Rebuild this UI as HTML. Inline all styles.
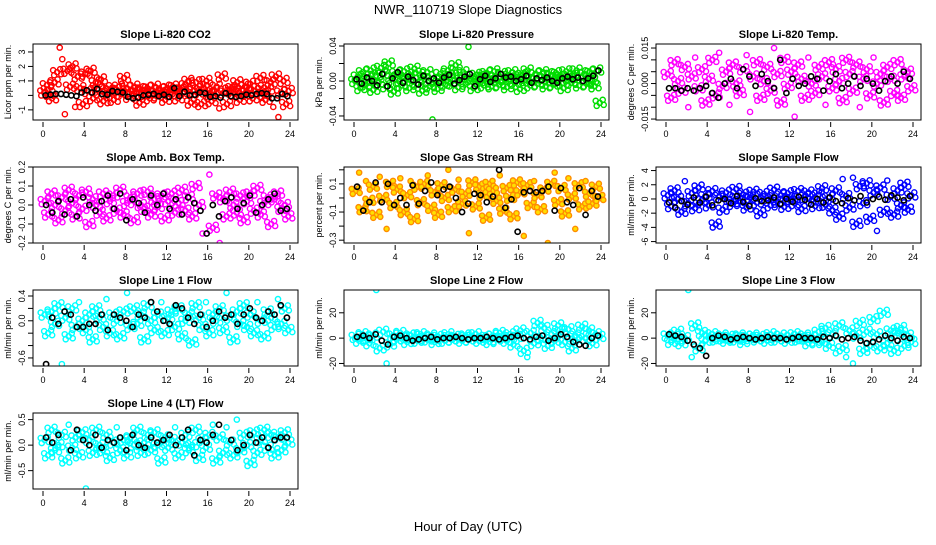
<!DOCTYPE html>
<html><head><meta charset="utf-8"><style>
body{margin:0;background:#fff;}
svg text{font-family:"Liberation Sans",Arial,sans-serif;}
</style></head><body>
<svg id="chart" width="936" height="540" xmlns="http://www.w3.org/2000/svg">
<text x="468" y="14" text-anchor="middle" font-size="13">NWR_110719  Slope Diagnostics</text>
<text x="468" y="531" text-anchor="middle" font-size="13">Hour of Day (UTC)</text>
</svg>
<script>
const xTicks=[0,4,8,12,16,20,24];
const titles=["Slope Li-820 CO2","Slope Li-820 Pressure","Slope Li-820 Temp.","Slope Amb. Box Temp.","Slope Gas Stream RH","Slope Sample Flow","Slope Line 1 Flow","Slope Line 2 Flow","Slope Line 3 Flow","Slope Line 4 (LT) Flow"];
const yLabels=["Licor ppm per min.","kPa per min.","degrees C per min.","degrees C per min.","percent per min.","ml/min per min.","ml/min per min.","ml/min per min.","ml/min per min.","ml/min per min."];
const colors=["#ff0000","#00dd00","#ff00ff","#ff00ff","#ff8c00","#0000ff","#00ffff","#00ffff","#00ffff","#00ffff"];
const yDomains=[[-1.7,3.55],[-0.0446,0.0423],[-0.0154,0.0167],[-0.2,0.2],[-0.32,0.22],[-6.2,4.5],[-0.73,0.497],[-22,38],[-22,38],[-0.86,0.63]];
const yTickVals=[[-1,0,1,2,3],[-0.04,-0.02,0,0.02,0.04],[-0.015,-0.01,-0.005,0,0.005,0.01,0.015],[-0.2,-0.1,0,0.1,0.2],[-0.3,-0.2,-0.1,0,0.1,0.2],[-6,-4,-2,0,2,4],[-0.6,-0.4,-0.2,0,0.2,0.4],[-20,0,20],[-20,0,20],[-0.5,0,0.5]];
const yTickLabels=[["-1","","1","2","3"],["-0.04","","0.00","","0.04"],["-0.015","","","0.000","","","0.015"],["-0.2","-0.1","0.0","0.1","0.2"],["-0.3","","-0.1","","0.1",""],["-6","-4","-2","0","2","4"],["-0.6","","","0.0","","0.4"],["-20","0","20"],["-20","0","20"],["-0.5","0.0","0.5"]];
const c0=[0.2,0.7,0.1,-0.2,0.9,1.6,3.3,2.5,-1.3,1.7,0.6,2.0,-0.8,1.3,0.5,-0.6,1.5,0.3,1.7,-0.2,0.9,0.4,1.1,-0.4,0.5,0.2,0.3,-0.3,0.4,0.6,0.1,1.2,0.5,-0.1,0.3,0.6,0.2,-0.5,0.4,0.1,0.5,-0.2,0.3,0.6,0.0,0.4,0.2,-0.3,0.5,0.1,0.6,0.3,-0.2,0.4,0.2,0.7,1.0,-0.5,0.3,0.9,0.2,-0.6,0.5,1.0,0.1,-0.4,0.3,0.6,-0.9,1.3,0.2,-0.6,0.4,0.5,0.1,0.9,-0.3,0.4,0.6,0.2,0.8,-0.2,0.3,0.5,1.2,0.1,-0.3,0.4,0.9,-0.8,1.3,-1.5,0.2,1.0,-0.6,0.3];
const b0=[0,0.05,0.1,0.1,0.05,0,-0.05,0.2,0.35,0.2,0.45,0.1,0.05,0.3,0.25,0.2,-0.1,-0.2,-0.15,0,0.05,0.1,-0.05,0.05,-0.1,0.5,-0.05,0.25,0,0.05,0.2,0.15,-0.1,-0.05,-0.15,0.15,-0.05,-0.1,-0.05,0.05,0,0.1,0.15,0.1,-0.2,-0.2,0.1,-0.05];
const c1=[0.000,0.005,-0.008,0.010,-0.004,0.003,0.012,-0.010,0.006,-0.002,0.015,0.008,-0.006,0.020,0.004,-0.012,0.009,0.000,-0.005,0.011,0.003,-0.008,0.006,0.014,-0.003,0.007,-0.011,0.002,0.010,-0.006,-0.044,0.000,-0.009,0.008,0.003,-0.004,0.012,-0.002,0.006,0.018,-0.007,0.004,0.010,-0.003,0.039,0.002,-0.008,0.007,0.000,0.005,-0.005,0.009,0.003,-0.006,0.011,0.001,-0.004,0.008,0.002,-0.007,0.006,0.010,-0.002,0.004,-0.009,0.007,0.001,0.012,-0.005,0.003,0.008,-0.003,0.005,0.010,-0.006,0.002,0.007,-0.004,0.009,0.000,0.005,-0.008,0.011,0.003,-0.002,0.006,0.012,-0.005,0.004,0.008,-0.003,0.010,0.001,-0.006,0.012,-0.025];
const b1=[0.002,-0.003,0.004,0.000,-0.005,0.008,-0.006,0.003,0.010,-0.002,0.005,0.001,-0.004,0.006,0.000,0.003,-0.002,0.004,0.007,-0.003,0.001,0.005,0.008,-0.006,0.002,0.006,-0.001,0.003,0.008,0.004,0.005,0.000,0.002,0.006,-0.002,0.003,0.001,0.004,0.000,-0.002,0.003,0.005,0.002,0.004,0.000,0.003,0.006,0.012];
const c2=[0.004,-0.006,0.009,0.001,-0.003,0.007,-0.010,0.003,0.011,-0.002,0.006,-0.008,0.002,0.010,-0.005,0.013,-0.001,0.005,-0.009,0.008,0.000,-0.004,0.006,0.012,-0.012,0.003,0.009,-0.006,0.001,0.007,-0.003,0.015,0.004,-0.008,0.010,-0.001,0.005,-0.014,0.008,0.002,-0.006,0.011,0.000,-0.004,0.007,0.003,-0.009,0.009,-0.002,0.006,0.001,-0.007,0.010,0.004,-0.003,0.008,-0.010,0.002,0.006,-0.005,0.011,0.000,0.004,-0.008,0.007,0.002,-0.004,0.009,-0.006,0.003,0.005,-0.002];
const b2=[-0.002,-0.002,-0.003,-0.002,-0.003,-0.002,-0.001,-0.004,-0.006,0.000,0.002,-0.002,0.006,0.003,-0.001,0.004,0.001,-0.002,0.010,-0.004,0.002,-0.001,0.000,0.003,0.002,-0.003,0.001,0.004,-0.002,0.000,0.003,-0.001,0.002,0.000,-0.003,0.001,0.003,0.000,0.005,0.002];
const c3=[0.02,-0.05,0.06,0.00,-0.08,0.04,-0.03,0.08,0.01,-0.06,0.05,-0.02,0.07,-0.10,0.03,0.00,-0.04,0.06,-0.07,0.02,0.05,-0.03,0.08,-0.05,0.01,0.04,-0.08,0.06,0.00,-0.02,0.07,-0.05,0.03,-0.01,0.05,-0.07,0.02,0.06,-0.04,0.01,0.08,-0.03,0.04,-0.06,0.10,0.00,-0.15,0.22,0.16,-0.12,0.05,-0.20,0.03,-0.06,0.07,0.00,-0.04,0.05,-0.08,0.02,0.06,-0.03,0.09,-0.05,0.01,0.04,-0.10,0.03,0.06,-0.02,0.00,-0.06];
const b3=[0.00,-0.04,0.02,-0.05,0.03,-0.06,0.04,0.00,-0.03,0.02,0.05,-0.02,0.06,-0.08,0.03,0.01,-0.04,0.05,0.00,0.06,-0.02,0.03,-0.05,0.04,0.01,-0.03,-0.15,0.00,-0.06,0.02,0.04,-0.02,0.01,0.05,-0.04,0.00,0.03,0.06,-0.03,-0.02];
const c4=[0.05,0.18,-0.08,0.12,-0.02,0.08,-0.12,0.15,0.00,-0.22,0.10,-0.05,0.06,0.14,-0.10,0.02,0.12,-0.15,0.08,-0.03,0.10,0.16,-0.07,0.04,-0.12,0.09,0.00,0.20,-0.08,0.06,0.13,-0.04,0.03,-0.25,0.11,-0.06,0.08,0.02,-0.14,0.10,0.05,-0.02,0.16,-0.09,0.07,0.00,-0.13,0.11,0.04,-0.27,0.09,-0.05,0.12,0.02,-0.08,0.06,-0.32,0.10,0.18,-0.03,0.07,-0.11,0.14,0.01,-0.22,0.09,-0.06,0.12,0.03,-0.04,0.08,0.00];
const b4=[0.08,-0.09,-0.03,0.11,-0.03,0.10,-0.05,0.00,-0.05,0.09,-0.04,0.05,0.11,0.02,0.06,0.08,0.00,-0.10,-0.04,0.03,0.02,-0.03,0.01,0.20,-0.07,-0.01,-0.24,0.04,0.05,0.04,0.05,0.08,-0.09,0.07,-0.03,-0.05,0.07,-0.12,0.05,0.01];
const c5=[0.5,-1.0,1.2,0.0,-1.8,2.5,-0.6,0.8,-1.3,1.6,-0.2,0.4,-0.9,1.1,-3.6,0.3,-1.5,0.9,0.0,-0.7,1.4,-0.3,0.6,-1.2,0.2,1.0,-0.5,-2.0,0.7,0.1,-0.9,1.3,-0.4,0.5,-1.1,0.8,0.0,-0.6,1.1,-1.4,0.3,0.9,-0.2,-1.0,0.6,1.5,-0.8,0.2,-1.6,1.2,-2.5,2.8,0.4,-1.2,3.0,-3.5,1.8,-0.6,2.2,-2.8,0.9,-4.5,1.6,-1.8,2.6,0.3,-2.2,1.2,-0.9,2.0,-1.5,0.5];
const b5=[-0.5,-1.2,-0.3,-0.8,0.2,-0.5,0.3,-0.9,-0.2,0.0,-0.6,0.4,-0.4,-1.0,0.1,-0.3,-0.2,0.2,-0.7,0.0,-0.4,0.3,-0.1,-0.8,0.0,-0.5,0.2,-0.3,-0.6,0.1,-0.2,0.4,-0.5,0.0,0.3,-0.1,0.5,0.2,-0.2,0.4];
const c6=[0.1,-0.2,0.15,-0.05,0.25,-0.7,0.05,-0.25,0.2,-0.1,0.3,0.0,-0.15,0.1,-0.3,0.2,0.05,-0.1,0.35,-0.2,0.1,0.0,-0.25,0.15,0.45,-0.1,0.2,-0.05,0.1,-0.3,0.25,0.0,-0.15,0.1,0.3,-0.2,0.05,0.15,-0.1,0.2,-0.25,0.0,0.1,-0.35,0.25,0.05,-0.1,0.3,-0.2,0.1,0.0,0.2,-0.15,0.45,0.05,-0.3,0.15,-0.05,0.25,-0.1,0.1,-0.2,0.3,0.0,-0.25,0.15,0.05,-0.1,0.35,-0.05,0.2,-0.15];
const b6=[-0.7,0.05,-0.05,0.15,0.1,-0.1,-0.1,-0.05,-0.05,0.1,-0.15,0.1,0.05,0.0,-0.1,0.1,0.05,0.3,0.15,0.0,-0.05,0.25,0.2,0.05,-0.05,0.1,-0.1,0.0,0.15,0.05,0.1,-0.05,0.1,0.2,0.05,0.0,0.15,0.1,0.25,0.05];
const c7=[1,-2,3,0,-4,2,38,-8,5,-20,-5,2,-1,4,0,-3,2,1,-2,3,0,-1,2,-3,1,0,-2,3,-1,1,0,-2,2,-1,1,3,-2,0,1,-3,2,-1,4,0,-2,3,-5,1,6,-10,-15,4,-4,12,0,8,-6,3,-2,10,5,-3,7,-8,2,-1,9,0,6,-4,3,1];
const b7=[1,2,0,3,-2,-5,1,2,0,-2,-1,0,1,-1,0,0,1,0,-1,0,0,1,0,-1,0,1,2,0,-1,1,2,-2,0,3,1,-3,-5,-6,0,2];
const c8=[2,-3,1,5,-4,0,38,-15,10,-8,4,-2,1,3,-1,0,2,-2,1,0,-1,2,-3,1,0,2,-1,1,0,-2,3,1,-1,2,0,-2,1,3,-1,0,2,-4,1,-2,5,-3,8,-6,3,-12,10,-8,-15,6,-20,2,12,-10,5,-6,15,3,-8,20,-4,6,-10,4,8,-6,2,-3];
const b8=[3,2,1,-2,-5,-8,-14,0,2,1,-1,0,1,0,-1,0,1,0,0,-1,0,1,0,0,-1,1,0,2,-1,0,1,-2,-4,-3,-1,2,0,-2,1,0];
const c9=[0.1,-0.2,0.3,-0.1,0.0,0.2,-0.3,0.4,-0.05,0.15,-0.2,0.25,-0.85,0.1,-0.15,0.3,0.0,-0.1,0.2,-0.25,0.05,0.35,-0.1,0.1,-0.2,0.15,0.0,0.3,-0.15,0.05,0.2,-0.1,0.25,0.0,-0.3,0.15,-0.05,0.1,0.35,-0.2,0.05,0.2,-0.1,0.0,0.3,-0.25,0.1,-0.05,0.2,0.4,-0.3,0.15,-0.15,0.35,0.05,-0.2,0.5,-0.1,0.2,0.0,-0.35,0.25,-0.15,0.1,0.3,-0.05,0.2,-0.2,0.15,-0.1,0.25,0.05];
const b9=[0.15,0.05,0.2,0.7,-0.1,0.3,0.1,0.0,0.2,-0.05,0.1,0.05,0.15,-0.1,0.2,0.0,-0.05,0.15,0.05,0.1,0.2,0.0,0.15,0.3,-0.2,0.1,0.05,0.2,0.4,0.75,0.1,-0.1,0.0,0.2,0.05,0.15,-0.05,0.1,0.15,0.15];
const colored=[c0,c1,c2,c3,c4,c5,c6,c7,c8,c9];
const blacks=[b0,b1,b2,b3,b4,b5,b6,b7,b8,b9];

const NS="http://www.w3.org/2000/svg";
const svg=document.getElementById('chart');
const colLeft=[33,344,656], rowTop=[44,167,290,413], PW=265, PH=76;
const clusterOffsets=[[0,0],[-3,3],[3,-3],[4,2],[-4,-2]];
function mk(tag,attrs,parent){const e=document.createElementNS(NS,tag);for(const k in attrs)e.setAttribute(k,attrs[k]);parent.appendChild(e);return e;}

titles.forEach((t,p)=>{
  const L=colLeft[p%3], T=rowTop[Math.floor(p/3)];
  const [ymin,ymax]=yDomains[p];
  const xs=h=>L+10+h*(247/24);
  const ys=v=>T+PH-(v-ymin)/(ymax-ymin)*PH;
  const g=mk('g',{},svg);
  
  
  const tt=mk('text',{x:L+PW/2,y:T-6,'text-anchor':'middle','font-size':11,'font-weight':'bold'},g);
  tt.textContent=t;
  
  
  const cl=mk('clipPath',{id:'cp'+p},g);
  mk('rect',{x:L,y:T,width:PW,height:PH},cl);
  const pts=mk('g',{'clip-path':'url(#cp'+p+')'},g);
  const cv=colored[p];
  cv.forEach((v,i)=>{
    const cx=xs((i+0.5)/cv.length*24), cy=ys(v);
    const m=mk('g',{},pts);
    
    
    const offs=Math.abs(v-(ymin+ymax)/2)>(ymax-ymin)*0.3?[[0,0]]:clusterOffsets;
    offs.forEach(o=>mk('circle',{cx:cx+o[0],cy:cy+o[1],r:2.6,fill:p===4?'#ffe000':'none',stroke:colors[p],'stroke-width':1.4},m));
  });
  const bv=blacks[p];
  bv.forEach((v,i)=>{
    const c=mk('circle',{cx:xs((i+0.5)/bv.length*24),cy:ys(v),r:2.6,fill:'none',stroke:'#000','stroke-width':1.6},pts);
    
    
  });
  const box=mk('rect',{x:L,y:T,width:PW,height:PH,fill:'none',stroke:'#000','stroke-width':1},g);
  
  
  xTicks.forEach(h=>{
    mk('line',{x1:xs(h),x2:xs(h),y1:T+PH+2,y2:T+PH+7,stroke:'#000'},g);
    const tx=mk('text',{x:xs(h),y:T+PH+17,'text-anchor':'middle','font-size':9},g);
    tx.textContent=h;
    
    
  });
  yTickVals[p].forEach((v,i)=>{
    const y=ys(v);
    mk('line',{x1:L-5,x2:L,y1:y,y2:y,stroke:'#000'},g);
    const lab=yTickLabels[p][i];
    if(lab){
      const tx=mk('text',{x:L-8,y:y,'text-anchor':'middle','font-size':9,transform:`rotate(-90 ${L-8} ${y})`},g);
      tx.textContent=lab;
      
      
    }
  });
  const yl=mk('text',{x:L-22,y:T+PH/2,'text-anchor':'middle','font-size':9,transform:`rotate(-90 ${L-22} ${T+PH/2})`},g);
  yl.textContent=yLabels[p];
  
  
});
</script>
</body></html>
